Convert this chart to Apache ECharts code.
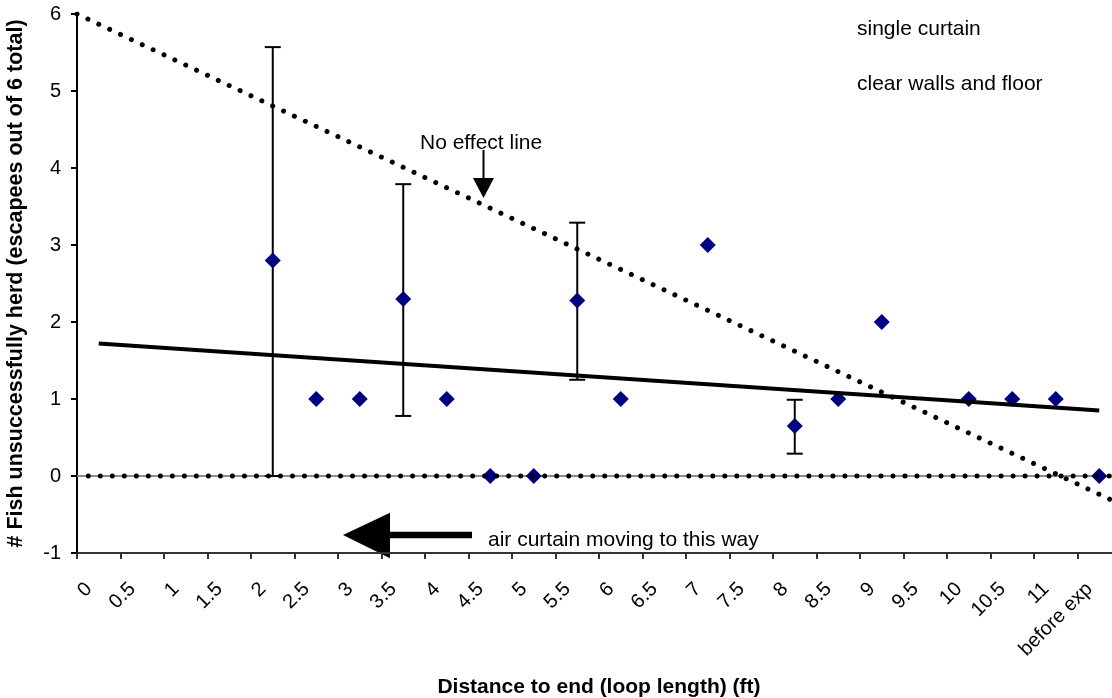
<!DOCTYPE html>
<html>
<head>
<meta charset="utf-8">
<script src="https://cdn.jsdelivr.net/npm/echarts@6/dist/echarts.min.js"></script>
<style>
  html, body { margin: 0; padding: 0; background: #fff; }
  #chart { width: 1112px; height: 698px; }
</style>
</head>
<body>
<div id="chart"></div>
<script>
// x categories (distance to end, ft)
const categories = ["0", "0.5", "1", "1.5", "2", "2.5", "3", "3.5", "4", "4.5", "5", "5.5",
  "6", "6.5", "7", "7.5", "8", "8.5", "9", "9.5", "10", "10.5", "11", "before exp"];

// fish unsuccessfully herded
const escapes = [null, null, null, null, 2.8, 1, 1, 2.3, 1, 0, 0, 2.28,
  1, null, 3, null, 0.65, 1, 2, null, 1, 1, 1, 0];

// error bars
const errCats = ["2", "3.5", "5.5", "8"];
const errLow = [0, 0.78, 1.25, 0.29];
const errHigh = [5.57, 3.79, 3.29, 0.99];

// linear trend (first and last category)
const trendCats = ["0", "before exp"];
const trendVals = [1.72, 0.85];

// "no effect" line, in category-width units from the left edge
const noEffectX = [0, 24];
const noEffectY = [6, -0.37];

// zero reference line
const zeroX = [0.26, 24];
const zeroY = [0, 0];

const yTicks = [-1, 0, 1, 2, 3, 4, 5, 6];

const font = "'Liberation Sans', Arial, sans-serif";

let dom = document.getElementById("chart");
let myChart = echarts.init(dom, null, { renderer: "canvas" });

const dots = { color: "#000", width: 5, type: [0.01, 12], cap: "round" };

let option = {
  animation: false,
  backgroundColor: "#fff",
  textStyle: { fontFamily: font },
  grid: { left: 77, top: 14, right: -9, bottom: 145, outerBoundsMode: "none" },
  xAxis: [
    {
      type: "category",
      data: categories,
      boundaryGap: true,
      position: "bottom",
      name: "Distance to end (loop length) (ft)",
      nameLocation: "middle",
      nameGap: 124,
      nameTextStyle: { fontFamily: font, fontSize: 21, fontWeight: "bold", color: "#000" },
      axisLine: { onZero: false, lineStyle: { color: "#333", width: 2 } },
      axisTick: { show: true, length: 6, lineStyle: { color: "#333", width: 2 } },
      axisLabel: {
        interval: 0, rotate: 45, margin: 23, padding: [0, 14, 0, 0],
        fontSize: 20, color: "#000", fontFamily: font
      },
      splitLine: { show: false }
    },
    {
      type: "value",
      min: 0,
      max: 24,
      position: "top",
      axisLine: { show: true, lineStyle: { color: "#8c8c8c", width: 2 } },
      axisTick: { show: false },
      axisLabel: { show: false },
      splitLine: { show: false }
    }
  ],
  yAxis: {
    type: "value",
    min: yTicks[0],
    max: yTicks[yTicks.length - 1],
    interval: 1,
    name: "# Fish unsuccessfully herd (escapees out of 6 total)",
    nameLocation: "middle",
    nameGap: 50,
    nameTextStyle: { fontFamily: font, fontSize: 21.5, fontWeight: "bold", color: "#000" },
    axisLine: { show: true, onZero: false, lineStyle: { color: "#000", width: 2 } },
    axisTick: { show: true, length: 6, lineStyle: { color: "#000", width: 2 } },
    axisLabel: { margin: 16, fontSize: 20, color: "#000", fontFamily: font },
    splitLine: { show: false }
  },
  series: [
    {
      name: "err",
      type: "custom",
      xAxisIndex: 0,
      z: 2,
      data: errCats.map((c, i) => [categories.indexOf(c), errLow[i], errHigh[i]]),
      renderItem: function (params, api) {
        const lo = api.coord([api.value(0), api.value(1)]);
        const hi = api.coord([api.value(0), api.value(2)]);
        const w = 8;
        const st = { stroke: "#000", lineWidth: 2 };
        return {
          type: "group",
          children: [
            { type: "line", shape: { x1: lo[0], y1: lo[1], x2: hi[0], y2: hi[1] }, style: st },
            { type: "line", shape: { x1: hi[0] - w, y1: hi[1], x2: hi[0] + w, y2: hi[1] }, style: st },
            { type: "line", shape: { x1: lo[0] - w, y1: lo[1], x2: lo[0] + w, y2: lo[1] }, style: st }
          ]
        };
      }
    },
    {
      name: "escapes",
      type: "scatter",
      xAxisIndex: 0,
      z: 3,
      symbol: "diamond",
      symbolSize: 16,
      itemStyle: { color: "#000080", opacity: 1 },
      data: escapes
    },
    {
      name: "trend",
      type: "line",
      xAxisIndex: 1,
      z: 4,
      symbol: "none",
      lineStyle: { color: "#000", width: 4 },
      data: trendCats.map((c, i) => [categories.indexOf(c) + 0.5, trendVals[i]])
    },
    {
      name: "no effect",
      type: "line",
      xAxisIndex: 1,
      z: 5,
      symbol: "none",
      lineStyle: dots,
      data: noEffectX.map((x, i) => [x, noEffectY[i]])
    },
    {
      name: "zero",
      type: "line",
      xAxisIndex: 1,
      z: 5,
      symbol: "none",
      lineStyle: dots,
      data: zeroX.map((x, i) => [x, zeroY[i]])
    }
  ],
  graphic: [
    { type: "text", left: 857, top: 19, style: { text: "single curtain", font: "21px " + font, fill: "#000" } },
    { type: "text", left: 857, top: 74, style: { text: "clear walls and floor", font: "21px " + font, fill: "#000" } },
    { type: "text", left: 420, top: 133, style: { text: "No effect line", font: "21px " + font, fill: "#000" } },
    { type: "text", left: 488, top: 530, style: { text: "air curtain moving to this way", font: "21px " + font, fill: "#000" } },
    // small down arrow
    { type: "line", shape: { x1: 483.5, y1: 150, x2: 483.5, y2: 180 }, style: { stroke: "#000", lineWidth: 2 } },
    { type: "polygon", shape: { points: [[473, 178], [494, 178], [483.5, 198]] }, style: { fill: "#000" } },
    // big left arrow
    { type: "rect", shape: { x: 388, y: 531.7, width: 84, height: 6.6 }, style: { fill: "#000" } },
    { type: "polygon", shape: { points: [[343, 535], [390, 512.7], [390, 558.3]] }, style: { fill: "#000" } }
  ]
};

if (option && typeof option === "object") {
  myChart.setOption(option);
}

window.addEventListener("resize", myChart.resize);
</script>
</body>
</html>
